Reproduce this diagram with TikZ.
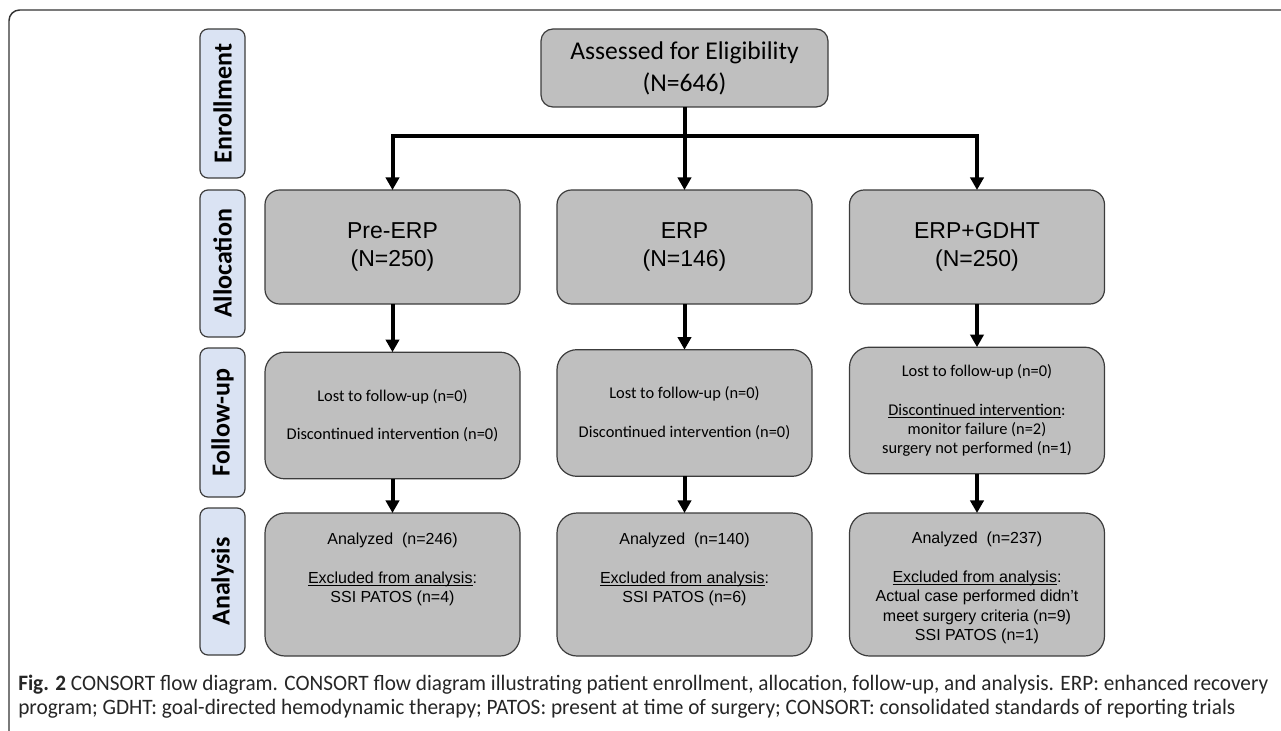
\documentclass[tikz,border=0pt]{standalone}
\usepackage{fontspec}
\setmainfont{Liberation Sans}
\newfontfamily\calib{Carlito}
\newfontfamily\capfont{Carlito}
\usetikzlibrary{arrows.meta}
\definecolor{boxgray}{RGB}{191,191,191}
\definecolor{lblue}{RGB}{218,227,243}
\definecolor{edge}{RGB}{60,60,60}
\newcommand\myul[1]{\setbox0\hbox{#1}\rlap{\rule[-2pt]{\wd0}{0.7pt}}\box0}
\tikzset{
  box/.style={draw=edge, line width=0.9pt, fill=boxgray, inner sep=0pt, outer sep=0pt, align=center},
  topbox/.style={box, rounded corners=9pt, minimum width=215.25pt, minimum height=58.5pt, font=\calib\fontsize{19.2}{24}\selectfont},
  allocbox/.style={box, rounded corners=11pt, minimum width=191.25pt, minimum height=85.5pt, font=\fontsize{17.25}{21.5}\selectfont},
  fubox/.style={box, rounded corners=15pt, minimum width=191.25pt, minimum height=95pt, font=\calib\fontsize{12.3}{14.5}\selectfont},
  anbox/.style={box, rounded corners=15pt, minimum width=191.25pt, minimum height=107.25pt},
  antext/.style={font=\fontsize{12}{14.5}\selectfont, align=center, inner sep=0pt, anchor=north},
  lbl/.style={draw=edge, line width=0.9pt, fill=lblue, rounded corners=6pt, rotate=90, minimum height=33.75pt, inner sep=0pt, outer sep=0pt, font=\calib\bfseries\fontsize{19.5}{22}\selectfont},
  conn/.style={line width=3pt, -{Triangle[width=10pt,length=9.5pt]}},
  plainline/.style={line width=3pt},
  captext/.style={font=\capfont\fontsize{16.5}{19}\selectfont, inner sep=0pt, anchor=base west, text=black!85},
}
\begin{document}
\begin{tikzpicture}[x=0.75pt,y=-0.75pt]
\useasboundingbox (0,0) rectangle (1281,731);
\clip (0,0) rectangle (1281,731);
% outer frame
\draw[draw=black!80, line width=1.1pt, rounded corners=8pt] (9,10) rectangle (1320,770);

% side labels
\node[lbl, minimum width=111.75pt] (lenr) at (222.5,103.5) {Enrollment};
\node[lbl, minimum width=110.25pt] (lall) at (222.5,263.5) {Allocation};
\node[lbl, minimum width=111.75pt] (lfu) at (222.5,422.5) {Follow-up};
\node[lbl, minimum width=110.25pt] (lan) at (222.5,581.5) {Analysis};

% top box
\node[topbox] (top) at (684.5,68) {Assessed for Eligibility\\(N=646)};

% allocation
\node[allocbox] (a1) at (392.5,247) {Pre-ERP\\(N=250)};
\node[allocbox] (a2) at (684.5,247) {ERP\\(N=146)};
\node[allocbox] (a3) at (977,247) {ERP+GDHT\\(N=250)};

% follow-up
\node[fubox] (f1) at (392.5,415.5) {Lost to follow-up (n=0)\\[14.5pt]Discontinued intervention (n=0)};
\node[fubox] (f2) at (684.5,413) {Lost to follow-up (n=0)\\[14.5pt]Discontinued intervention (n=0)};
\node[fubox] (f3) at (977,410.5) {Lost to follow-up (n=0)\\[14.5pt]\myul{Discontinued intervention}:\\monitor failure (n=2)\\surgery not performed (n=1)};

% analysis
\node[anbox] (n1) at (392.5,584.5) {};
\node[anbox] (n2) at (684.5,584.5) {};
\node[anbox] (n3) at (977,584.5) {};
\node[antext] (t1) at (392.5,533) {Analyzed~ (n=246)\\[14.5pt]\myul{Excluded from analysis}:\\SSI PATOS (n=4)};
\node[antext] (t2) at (684.5,533) {Analyzed~ (n=140)\\[14.5pt]\myul{Excluded from analysis}:\\SSI PATOS (n=6)};
\node[antext] (t3) at (977,532) {Analyzed~ (n=237)\\[14.5pt]\myul{Excluded from analysis}:\\Actual case performed didn't\\meet surgery criteria (n=9)\\SSI PATOS (n=1)};

% connectors
\coordinate (split) at (684.5,136);
\draw[plainline] (top.south) -- (split);
\draw[conn] (split) -- (a2.north);
\draw[conn] (split) -| (a1.north);
\draw[conn] (split) -| (a3.north);
\draw[conn] (a1) -- (f1);
\draw[conn] (a2) -- (f2);
\draw[conn] (a3) -- (f3);
\draw[conn] (f1) -- (n1);
\draw[conn] (f2) -- (n2);
\draw[conn] (f3) -- (n3);

% caption
\node[captext] (cap1) at (18,690) {\resizebox{937.5pt}{\height}{\textbf{Fig. 2} CONSORT flow diagram. CONSORT flow diagram illustrating patient enrollment, allocation, follow-up, and analysis. ERP: enhanced recovery}};
\node[captext] (cap2) at (18,714) {\resizebox{912.75pt}{\height}{program; GDHT: goal-directed hemodynamic therapy; PATOS: present at time of surgery; CONSORT: consolidated standards of reporting trials}};
\end{tikzpicture}
\end{document}
